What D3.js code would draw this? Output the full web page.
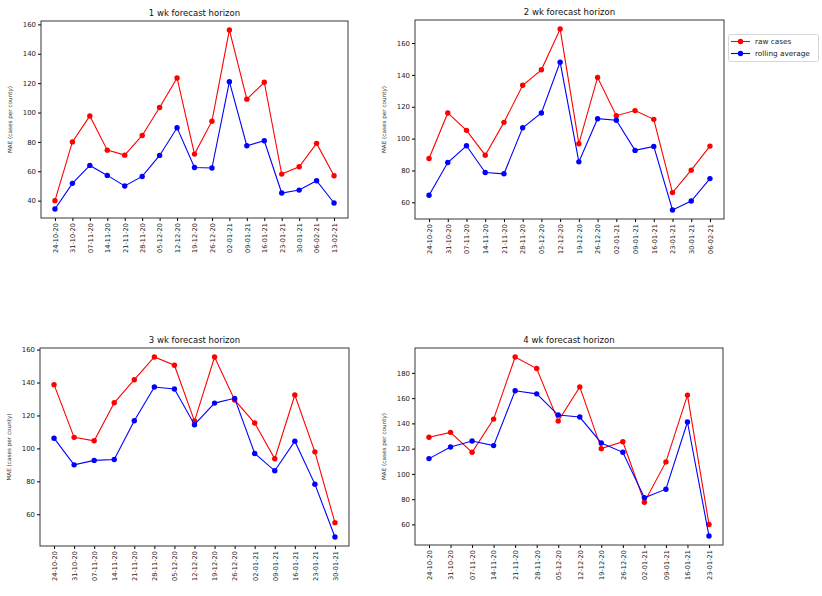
<!DOCTYPE html>
<html>
<head>
<meta charset="utf-8">
<script src="https://cdn.jsdelivr.net/npm/d3@7"></script>
<style>
  body { margin: 0; background: #fff; font-family: 'DejaVu Sans', sans-serif; }
  .tick text { font-family: 'DejaVu Sans', sans-serif; fill: #222; }
</style>
</head>
<body>
<script>
const dates = ['24-10-20', '31-10-20', '07-11-20', '14-11-20', '21-11-20', '28-11-20', '05-12-20',
  '12-12-20', '19-12-20', '26-12-20', '02-01-21', '09-01-21', '16-01-21', '23-01-21', '30-01-21',
  '06-02-21', '13-02-21']

const titles = ['1 wk forecast horizon', '2 wk forecast horizon', '3 wk forecast horizon', '4 wk forecast horizon']

const raw1 = [40, 80, 97.7, 74.4, 71, 84.4, 103.4, 123.5, 71.7, 94.1, 156.2, 109.1, 120.6, 58.1, 63.1, 79, 57]
const roll1 = [34.3, 51.8, 64, 57.2, 50, 56.5, 70.8, 89.6, 62.6, 62.2, 121, 77.4, 80.8, 45.2, 47.2, 53.6, 38.4]

const raw2 = [87.5, 116.1, 105.2, 89.6, 110.2, 133.5, 143.2, 168.8, 96.8, 138.4, 114.4, 117.6, 112.1, 66.1, 80.2, 95.3]
const roll2 = [64.4, 85, 95.5, 78.7, 77.9, 106.8, 116.1, 148, 85.4, 112.5, 111.5, 92.6, 95.1, 55.2, 60.8, 74.9]

const raw3 = [138.7, 106.7, 104.6, 127.7, 141.7, 155.5, 150.5, 116.6, 155.5, 129.4, 115.4, 93.7, 132.4, 97.9, 54.9]
const roll3 = [106.2, 90, 92.7, 93.3, 116.8, 137.3, 136.1, 114.4, 127.5, 130.4, 96.9, 86.4, 104.4, 78.3, 46.2]

const raw4 = [129, 132.9, 117.1, 143.4, 192.6, 183.4, 141.8, 168.9, 120, 125.5, 77.6, 109.5, 162.4, 60]
const roll4 = [112.1, 121.3, 126.1, 122.4, 165.8, 163.4, 146.6, 145, 124.5, 117.1, 81.1, 87.9, 141.1, 50.8]

const seriesNames = ['raw cases', 'rolling average']
const colors = ['#ff0000', '#0000ff']

const panels = [
  { raw: raw1, roll: roll1, box: { left: 41, right: 348, top: 21, bottom: 218 } },
  { raw: raw2, roll: roll2, box: { left: 415, right: 724, top: 20, bottom: 219 } },
  { raw: raw3, roll: roll3, box: { left: 40, right: 349, top: 348, bottom: 546 } },
  { raw: raw4, roll: roll4, box: { left: 415, right: 723, top: 348, bottom: 545 } }
]

const svg = d3.select('body').append('svg')
  .attr('width', 822)
  .attr('height', 596)

panels.forEach((p, i) => {
  const b = p.box
  const n = p.raw.length
  const labels = dates.slice(0, n)
  const g = svg.append('g')

  // matplotlib-style 5% margins
  const xScale = d3.scaleLinear()
    .domain([-0.05 * (n - 1), (n - 1) * 1.05])
    .range([b.left, b.right])
  const all = p.raw.concat(p.roll)
  const lo = d3.min(all), hi = d3.max(all)
  const pad = (hi - lo) * 0.05
  const yScale = d3.scaleLinear()
    .domain([lo - pad, hi + pad])
    .range([b.bottom, b.top])

  const xAxis = d3.axisBottom(xScale)
    .tickValues(d3.range(n))
    .tickFormat(d => labels[d])
    .tickSize(3)
    .tickPadding(2)
  const yAxis = d3.axisLeft(yScale)
    .ticks(6)
    .tickSize(3)
    .tickPadding(2)

  const gx = g.append('g')
    .attr('transform', `translate(0, ${b.bottom})`)
    .call(xAxis)
  gx.select('.domain').remove()
  gx.selectAll('.tick text')
    .attr('transform', 'rotate(-90)')
    .attr('text-anchor', 'end')
    .attr('x', -5)
    .attr('y', 0)
    .attr('dy', '0.35em')
    .style('font-size', '6.6px')

  const gy = g.append('g')
    .attr('transform', `translate(${b.left}, 0)`)
    .call(yAxis)
  gy.select('.domain').remove()
  gy.selectAll('.tick text').style('font-size', '6.9px')

  g.append('rect')
    .attr('x', b.left)
    .attr('y', b.top)
    .attr('width', b.right - b.left)
    .attr('height', b.bottom - b.top)
    .attr('fill', 'none')
    .attr('stroke', '#222')
    .attr('stroke-width', 0.9)

  g.append('text')
    .attr('x', (b.left + b.right) / 2)
    .attr('y', b.top - 5)
    .attr('text-anchor', 'middle')
    .style('font-size', '8.5px')
    .style('fill', '#111')
    .text(titles[i])

  g.append('text')
    .attr('transform', `translate(${b.left - 29}, ${(b.top + b.bottom) / 2}) rotate(-90)`)
    .attr('text-anchor', 'middle')
    .style('font-size', '5.7px')
    .style('fill', '#333')
    .text('MAE (cases per county)')

  const line = d3.line()
    .x((d, j) => xScale(j))
    .y(d => yScale(d))

  ;[p.raw, p.roll].forEach((vals, k) => {
    g.append('path')
      .datum(vals)
      .attr('d', line)
      .attr('fill', 'none')
      .attr('stroke', colors[k])
      .attr('stroke-width', 1.1)
    g.selectAll(null)
      .data(vals)
      .enter().append('circle')
      .attr('cx', (d, j) => xScale(j))
      .attr('cy', d => yScale(d))
      .attr('r', 2.7)
      .attr('fill', colors[k])
  })
})

// legend beside panel 2
const legend = svg.append('g')
legend.append('rect')
  .attr('x', 728.5)
  .attr('y', 34.5)
  .attr('width', 90)
  .attr('height', 27)
  .attr('rx', 2)
  .attr('fill', '#fff')
  .attr('stroke', '#ccc')
  .attr('stroke-width', 0.8)
seriesNames.forEach((name, k) => {
  const y = 41.5 + k * 12
  legend.append('line')
    .attr('x1', 731).attr('x2', 750)
    .attr('y1', y).attr('y2', y)
    .attr('stroke', colors[k])
    .attr('stroke-width', 1.1)
  legend.append('circle')
    .attr('cx', 740.5).attr('cy', y)
    .attr('r', 2.7)
    .attr('fill', colors[k])
  legend.append('text')
    .attr('x', 755)
    .attr('y', y)
    .attr('dy', '0.35em')
    .style('font-size', '7.3px')
    .style('fill', '#222')
    .text(name)
})
</script>
</body>
</html>
